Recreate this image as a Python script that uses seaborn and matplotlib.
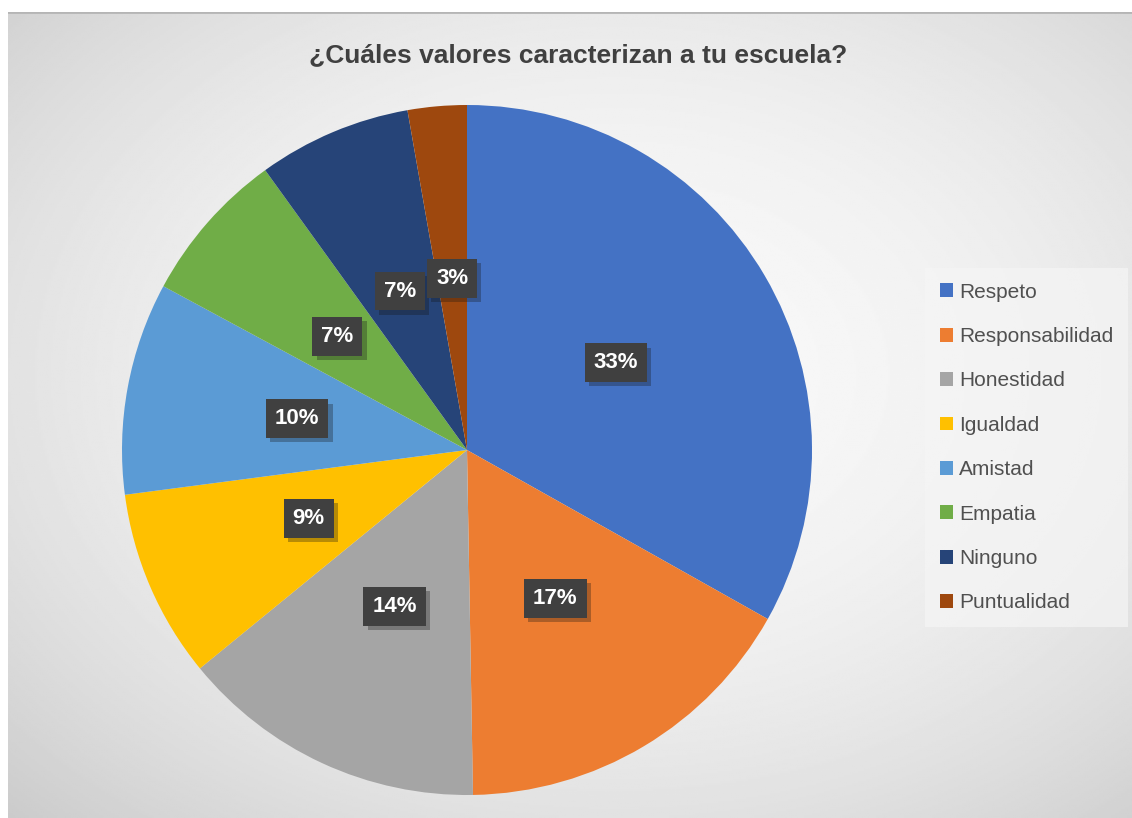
import numpy as np
import matplotlib
matplotlib.use('Agg')
import matplotlib.pyplot as plt
import matplotlib.patheffects as pe
import seaborn as sns

sns.set_theme(style='white')
plt.rcParams['font.family'] = ['Liberation Sans', 'DejaVu Sans']

# data (answer counts, shown as rounded percentages)
valores = ['Respeto', 'Responsabilidad', 'Honestidad', 'Igualdad',
           'Amistad', 'Empatia', 'Ninguno', 'Puntualidad']
respuestas = [60, 30, 26, 16, 18, 13, 13, 5]
colores = ['#4472C4', '#ED7D31', '#A5A5A5', '#FFC000',
           '#5B9BD5', '#70AD47', '#264478', '#9E480E']
titulo = '¿Cuáles valores caracterizan a tu escuela?'

W, H = 1132, 818
fig = plt.figure(figsize=(W / 100, H / 100), dpi=100)
fig.patch.set_facecolor('white')

# gradient background of the chart area
bg = fig.add_axes([8 / W, 0, 1 - 8 / W, (H - 12) / H])
yy, xx = np.mgrid[0:1:400j, 0:1:560j]
d2 = ((xx - 0.54) / 0.75) ** 2 + ((yy - 0.45) / 0.75) ** 2
shade = np.clip(0.975 - 0.17 * d2, 0.77, 0.975)
bg.imshow(shade, cmap='gray', vmin=0, vmax=1, aspect='auto',
          extent=[0, 1, 0, 1], origin='upper')
bg.axhline(1, color='#b5b5b5', lw=2)
bg.set_axis_off()

# pie
R = 345
cx, cy = 467, H - 450
ax = fig.add_axes([(cx - R) / W, (cy - R) / H, 2 * R / W, 2 * R / H])
wedges, _, autotexts = ax.pie(
    respuestas, colors=colores, startangle=90, counterclock=False,
    autopct=lambda p: '%d%%' % round(p), pctdistance=0.5,
    wedgeprops={'linewidth': 0})
ax.set_aspect('equal')
ax.set_xlim(-1, 1)
ax.set_ylim(-1, 1)
ax.set_axis_off()

for t in autotexts:
    t.set_color('white')
    t.set_fontsize(16)
    t.set_fontweight('bold')
    t.set_bbox(dict(boxstyle='square,pad=0.4', facecolor='#404040',
                    edgecolor='none'))
    t.get_bbox_patch().set_path_effects(
        [pe.SimplePatchShadow(offset=(3, -3), alpha=0.3), pe.Normal()])

fig.text(578 / W, 1 - 55 / H, titulo, ha='center', va='center',
         fontsize=19, fontweight='bold', color='#404040')

leg = ax.legend(wedges, valores, loc='upper left',
                bbox_to_anchor=(925 / W, 1 - 268 / H),
                bbox_transform=fig.transFigure, borderaxespad=0,
                fontsize=15, labelcolor='#505050', frameon=True,
                handlelength=0.65, handleheight=0.65, handletextpad=0.3,
                labelspacing=1.22, borderpad=0.7, fancybox=False)
leg.get_frame().set_facecolor('#f5f5f5')
leg.get_frame().set_alpha(0.7)
leg.get_frame().set_edgecolor('none')

fig.savefig('out.png', dpi=100)
